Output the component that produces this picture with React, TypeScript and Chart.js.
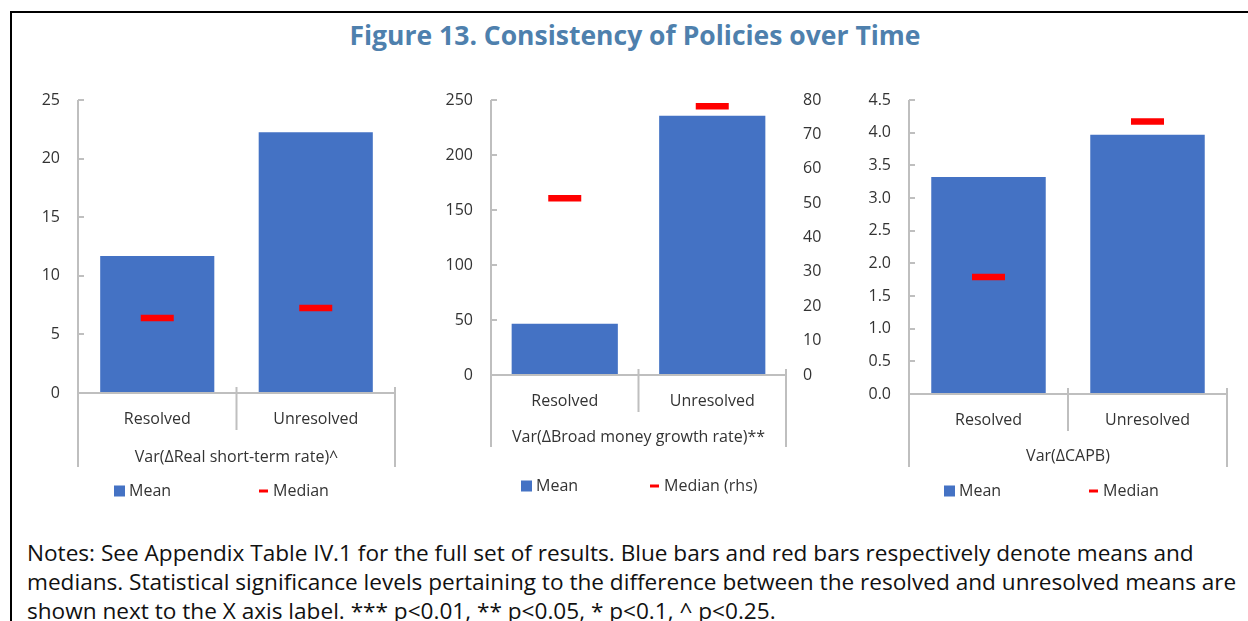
import React, { useEffect, useRef } from "react";
import { Chart, registerables } from "chart.js";

Chart.register(...registerables);

const categories = ["Resolved", "Unresolved"];

const rateMeans = [11.7, 22.25];
const rateMedians = [6.4, 7.25];
const rateTicks = { min: 0, max: 25, step: 5 };

const moneyMeans = [46.7, 235.7];
const moneyMedians = [51.4, 78.2];
const moneyTicks = { min: 0, max: 250, step: 50 };
const moneyRhsTicks = { min: 0, max: 80, step: 10 };

const capbMeans = [3.32, 3.97];
const capbMedians = [1.79, 4.17];
const capbTicks = { min: 0, max: 4.5, step: 0.5 };

const groupLabels = [
  "Var(ΔReal short-term rate)^",
  "Var(ΔBroad money growth rate)**",
  "Var(ΔCAPB)",
];
const meanLabel = "Mean";
const medianLabels = ["Median", "Median (rhs)", "Median"];

const titleText = "Figure 13. Consistency of Policies over Time";
const noteLines = [
  "Notes: See Appendix Table IV.1 for the full set of results. Blue bars and red bars respectively denote means and",
  "medians. Statistical significance levels pertaining to the difference between the resolved and unresolved means are",
  "shown next to the X axis label. *** p<0.01, ** p<0.05, * p<0.1, ^ p<0.25.",
];

const FONT = "'Open Sans', 'Noto Sans', sans-serif";
const BLUE = "#4472C4";
const RED = "#FF0000";
const AXIS = "#BFBFBF";
const TEXT = "#333333";

const excelAxes = {
  id: "excelAxes",
  afterDraw(chart: any, _args: any, opts: any) {
    const { ctx, chartArea } = chart;
    const { left, right, top, bottom } = chartArea;
    const xs = chart.scales.x;
    const ys = chart.scales.y;
    const line = (x1: number, y1: number, x2: number, y2: number) => {
      ctx.beginPath();
      ctx.moveTo(x1, y1);
      ctx.lineTo(x2, y2);
      ctx.stroke();
    };
    ctx.save();
    ctx.strokeStyle = AXIS;
    ctx.lineWidth = 2;
    line(left, top, left, xs.bottom);
    ys.ticks.forEach((_t: any, i: number) => {
      const py = Math.round(ys.getPixelForTick(i));
      line(left, py, left + 6, py);
    });
    line(left, bottom, right, bottom);
    line(right, bottom - 6, right, xs.bottom);
    const mid = (xs.getPixelForValue(0) + xs.getPixelForValue(1)) / 2;
    line(mid, bottom - 6, mid, bottom + opts.midLen);

    ctx.fillStyle = TEXT;
    ctx.font = `16px ${FONT}`;
    ctx.textAlign = "center";
    ctx.textBaseline = "middle";
    ctx.fillText(opts.group, (left + right) / 2, bottom + opts.groupDy);

    // legend
    const ly = xs.bottom + opts.legendDy;
    ctx.fillStyle = BLUE;
    ctx.fillRect(opts.meanX, ly - 5.5, 11, 11);
    ctx.strokeStyle = RED;
    ctx.lineWidth = 3;
    line(opts.medX, ly, opts.medX + 9, ly);
    ctx.fillStyle = TEXT;
    ctx.textAlign = "left";
    ctx.fillText(meanLabel, opts.meanX + 15, ly);
    ctx.fillText(opts.medianLabel, opts.medX + 14, ly);
    ctx.restore();
  },
};

type Spec = {
  means: number[];
  medians: number[];
  ticks: { min: number; max: number; step: number };
  rhs?: { min: number; max: number; step: number };
  yWidth: number;
  rhsWidth?: number;
  padRight: number;
  xHeight: number;
  padBottom: number;
  decimals: number;
  plugin: any;
};

const hiddenGrid = (len: number) => ({
  display: true,
  drawOnChartArea: false,
  drawTicks: true,
  tickLength: len,
  color: "rgba(0,0,0,0)",
});

function Panel({ spec, style }: { spec: Spec; style: React.CSSProperties }) {
  const ref = useRef<HTMLCanvasElement>(null);
  useEffect(() => {
    if (!ref.current) return;
    const scales: any = {
      x: {
        grid: hiddenGrid(17),
        border: { display: false },
        ticks: { font: { family: FONT, size: 16 }, color: TEXT, padding: 0 },
        afterFit: (s: any) => {
          s.height = spec.xHeight;
        },
      },
      y: {
        position: "left",
        min: spec.ticks.min,
        max: spec.ticks.max,
        grid: hiddenGrid(18),
        border: { display: false },
        ticks: {
          stepSize: spec.ticks.step,
          padding: 0,
          font: { family: FONT, size: 16 },
          color: TEXT,
          callback: (v: any) => Number(v).toFixed(spec.decimals),
        },
        afterFit: (s: any) => {
          s.width = spec.yWidth;
        },
      },
    };
    if (spec.rhs) {
      scales.y1 = {
        position: "right",
        min: spec.rhs.min,
        max: spec.rhs.max,
        grid: hiddenGrid(17),
        border: { display: false },
        ticks: {
          stepSize: spec.rhs.step,
          padding: 0,
          font: { family: FONT, size: 16 },
          color: TEXT,
        },
        afterFit: (s: any) => {
          s.width = spec.rhsWidth;
        },
      };
    }
    const chart = new Chart(ref.current, {
      type: "bar",
      data: {
        labels: categories,
        datasets: [
          {
            type: "line",
            label: "Median",
            data: spec.medians,
            yAxisID: spec.rhs ? "y1" : "y",
            showLine: false,
            pointStyle: "line",
            pointRadius: 16.5,
            pointHoverRadius: 16.5,
            pointBorderWidth: 6.5,
            pointBorderColor: RED,
            borderColor: RED,
            backgroundColor: RED,
            order: 0,
          } as any,
          {
            type: "bar",
            label: "Mean",
            data: spec.means,
            yAxisID: "y",
            backgroundColor: BLUE,
            categoryPercentage: 0.8,
            barPercentage: 0.9,
            order: 1,
          },
        ],
      },
      options: {
        animation: false,
        responsive: false,
        maintainAspectRatio: false,
        events: [],
        layout: {
          autoPadding: false,
          padding: { top: 15, right: spec.padRight, bottom: spec.padBottom, left: 0 },
        },
        plugins: { legend: { display: false }, tooltip: { enabled: false }, excelAxes: spec.plugin } as any,
        scales,
      },
      plugins: [excelAxes],
    });
    return () => chart.destroy();
  }, []);
  return (
    <canvas
      ref={ref}
      width={style.width as number}
      height={style.height as number}
      style={{ position: "absolute", ...style }}
    />
  );
}

export default function App() {
  const rateSpec: Spec = {
    means: rateMeans,
    medians: rateMedians,
    ticks: rateTicks,
    yWidth: 58,
    padRight: 29,
    xHeight: 74,
    padBottom: 38,
    decimals: 0,
    plugin: { group: groupLabels[0], midLen: 37, groupDy: 64, legendDy: 24, meanX: 94, medX: 239, medianLabel: medianLabels[0] },
  };
  const moneySpec: Spec = {
    means: moneyMeans,
    medians: moneyMedians,
    ticks: moneyTicks,
    rhs: moneyRhsTicks,
    yWidth: 51,
    rhsWidth: 55,
    padRight: 0,
    xHeight: 72,
    padBottom: 58,
    decimals: 0,
    plugin: { group: groupLabels[1], midLen: 37, groupDy: 62, legendDy: 39, meanX: 81, medX: 210, medianLabel: medianLabels[1] },
  };
  const capbSpec: Spec = {
    means: capbMeans,
    medians: capbMedians,
    ticks: capbTicks,
    yWidth: 42,
    padRight: 10,
    xHeight: 73,
    padBottom: 38,
    decimals: 1,
    plugin: { group: groupLabels[2], midLen: 37, groupDy: 62, legendDy: 24, meanX: 77, medX: 222, medianLabel: medianLabels[2] },
  };
  return (
    <div
      style={{
        position: "absolute",
        left: 0,
        top: 0,
        width: 1248,
        height: 621,
        overflow: "hidden",
        background: "#fff",
        fontFamily: FONT,
      }}
    >
      <div
        style={{
          position: "absolute",
          left: 10,
          top: 11,
          width: 1300,
          height: 700,
          border: "2px solid #000",
        }}
      />
      <div
        style={{
          position: "absolute",
          left: 0,
          width: 1270,
          top: 19,
          textAlign: "center",
          fontWeight: 700,
          fontSize: 26.5,
          lineHeight: "32px",
          color: "#4E80AD",
          whiteSpace: "nowrap",
        }}
      >
        {titleText}
      </div>
      <Panel spec={rateSpec} style={{ left: 20, top: 85, width: 404, height: 420 }} />
      <Panel spec={moneySpec} style={{ left: 440, top: 85, width: 401, height: 420 }} />
      <Panel spec={capbSpec} style={{ left: 867, top: 85, width: 370, height: 420 }} />
      <div
        style={{
          position: "absolute",
          left: 27,
          top: 538,
          fontSize: 22.6,
          lineHeight: "29px",
          color: "#111",
          whiteSpace: "nowrap",
        }}
      >
        {noteLines.map((l, i) => (
          <div key={i}>{l}</div>
        ))}
      </div>
    </div>
  );
}
